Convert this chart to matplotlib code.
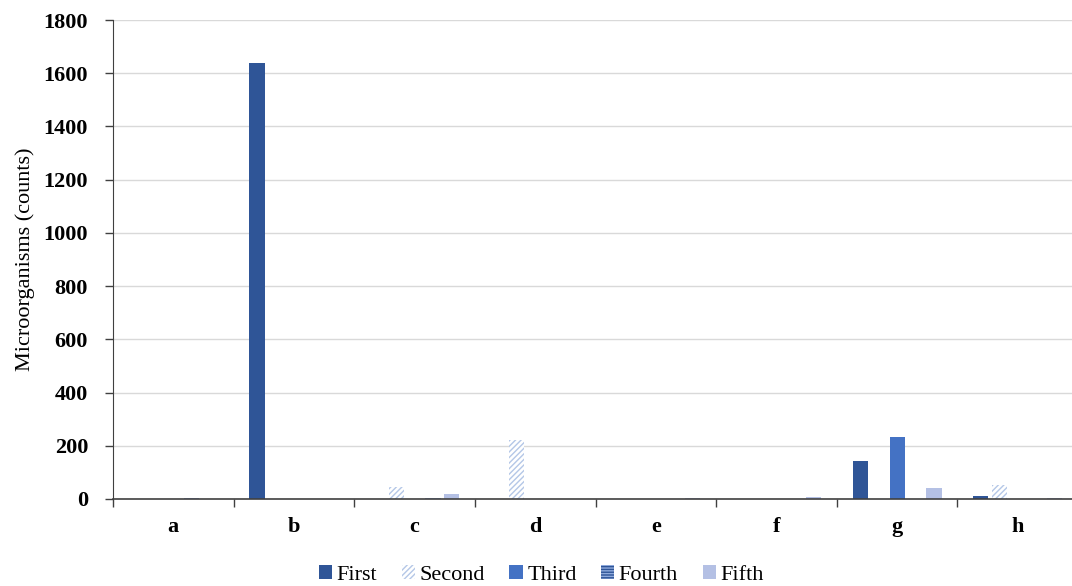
import numpy as np
import matplotlib.pyplot as plt
from matplotlib.patches import Patch

plt.rcParams['font.family'] = ['Liberation Serif', 'DejaVu Serif']
plt.rcParams['hatch.linewidth'] = 1.0

# Data
categories = ['a', 'b', 'c', 'd', 'e', 'f', 'g', 'h']
series = ['First', 'Second', 'Third', 'Fourth', 'Fifth']
first = [0, 1640, 0, 0, 0, 0, 143, 10]
second = [0, 0, 46, 222, 0, 0, 0, 51]
third = [0, 0, 0, 0, 0, 0, 232, 0]
fourth = [5, 0, 5, 0, 0, 0, 0, 0]
fifth = [0, 0, 20, 0, 3, 9, 41, 5]
values = [first, second, third, fourth, fifth]

# styles: (facecolor, hatch, hatch colour)
styles = [
    ('#2F5597', None, None),
    ('white', '//////', '#B4C7E7'),
    ('#4472C4', None, None),
    ('#2F5597', '------', '#8FAADC'),
    ('#B4C0E4', None, None),
]

fig = plt.figure(figsize=(10.72, 5.86), dpi=100)
ax = fig.add_axes([113/1072, 1 - 499/586, (1078 - 113)/1072, (499 - 20)/586])

x = np.arange(len(categories))
slot = 0.153
bw = 0.125
handles = []
for i, (name, vals) in enumerate(zip(series, values)):
    fc, hatch, hc = styles[i]
    pos = x + (i - 2) * slot
    if hatch:
        ax.bar(pos, vals, bw, color=fc, edgecolor=hc, hatch=hatch, linewidth=0)
        h = Patch(facecolor=fc, edgecolor=hc, hatch=hatch, linewidth=0, label=name)
    else:
        ax.bar(pos, vals, bw, color=fc, linewidth=0)
        h = Patch(facecolor=fc, linewidth=0, label=name)
    handles.append(h)

ax.set_xlim(-0.5, len(categories) - 0.5)
ax.set_ylim(0, 1800)
ax.set_yticks(np.arange(0, 1801, 200))
ax.yaxis.grid(True, color='#D9D9D9', linewidth=1)
ax.set_axisbelow(True)

ax.set_xticks(x)
ax.set_xticklabels(categories, fontsize=16, fontweight='bold')
ax.set_xticks(np.arange(-0.5, len(categories)), minor=True)
ax.tick_params(axis='x', which='major', length=0, pad=13)
ax.tick_params(axis='x', which='minor', length=6, width=1, color='#404040', direction='out')
ax.tick_params(axis='y', length=6, width=1, color='#404040', direction='out', labelsize=16, pad=12)
for lab in ax.get_yticklabels():
    lab.set_fontweight('bold')

for s in ['top', 'right']:
    ax.spines[s].set_visible(False)
ax.spines['left'].set_color('#404040')
ax.spines['bottom'].set_color('#404040')
ax.spines['bottom'].set_linewidth(1.2)

ax.set_ylabel('Microorganisms (counts)', fontsize=16, labelpad=6)

fig.legend(handles=handles, loc='lower center', bbox_to_anchor=(0.505, -0.032), ncol=5,
           frameon=False, fontsize=16, handlelength=0.6, handleheight=0.6,
           handletextpad=0.2, columnspacing=1.1)

fig.savefig('out.png', dpi=100)
